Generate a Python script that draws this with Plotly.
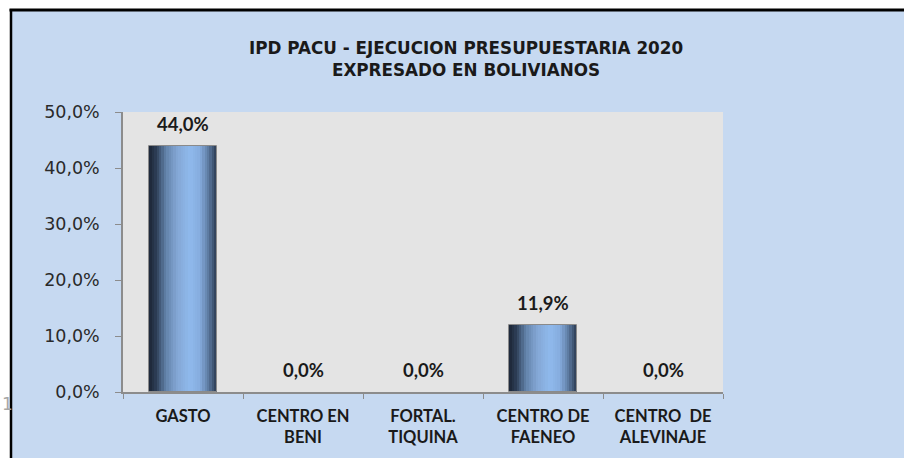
import plotly.graph_objects as go

categories = ["GASTO", "CENTRO EN<br>BENI", "FORTAL.<br>TIQUINA", "CENTRO DE<br>FAENEO", "CENTRO\u00a0 DE<br>ALEVINAJE"]
values = [0.44, 0.0, 0.0, 0.119, 0.0]
y_ticks = [0.0, 0.1, 0.2, 0.3, 0.4, 0.5]

W, H = 904, 458
L, R, T, B = 123, 723, 112, 392

def px2x(px):
    return (px - L) / (R - L)

def py2y(py):
    return (B - py) / (B - T)

# gradient stops across bar width (fraction, rgb)
stops = [(0.0, (28, 38, 54)), (0.1, (45, 62, 86)), (0.25, (100, 132, 172)),
         (0.42, (132, 168, 214)), (0.6, (143, 185, 236)), (0.75, (134, 172, 222)),
         (0.88, (92, 122, 160)), (1.0, (44, 60, 84))]

def col_at(t):
    for (a, ca), (b, cb) in zip(stops[:-1], stops[1:]):
        if a <= t <= b:
            f = (t - a) / (b - a) if b > a else 0
            c = [round(ca[i] + (cb[i] - ca[i]) * f) for i in range(3)]
            return "rgb(%d,%d,%d)" % tuple(c)
    return "rgb(%d,%d,%d)" % stops[-1][1]

bw = 0.56
n = 28
sw = bw / n
fig = go.Figure()
for i in range(n):
    fig.add_trace(go.Bar(
        x=categories, y=values, width=sw * 1.08, offset=-bw / 2 + i * sw,
        marker=dict(color=col_at((i + 0.5) / n), line=dict(width=0)),
        hoverinfo="skip", showlegend=False))
fig.add_trace(go.Bar(
    x=categories, y=values, width=bw, offset=-bw / 2,
    marker=dict(color="rgba(0,0,0,0)",
                line=dict(color="#8a8a8a", width=[1 if v > 0 else 0 for v in values])),
    hoverinfo="skip", showlegend=False))

for c, v in zip(categories, values):
    fig.add_annotation(x=c, y=v, xref="x", yref="y",
                       text=("%.1f" % (v * 100)).replace(".", ",") + "%",
                       showarrow=False, yshift=22, yanchor="middle",
                       font=dict(family="Lato", size=18.5, color="#1a1a1a", weight="bold"))

# stray gray "1" at left outside chart area
fig.add_annotation(x=px2x(0), y=py2y(404), xref="paper", yref="paper", text="1",
                   showarrow=False, xanchor="left", yanchor="middle",
                   font=dict(family="DejaVu Sans", size=17, color="#a6a6a6"))

shapes = [
    dict(type="rect", xref="paper", yref="paper", x0=px2x(-10), x1=px2x(10),
         y0=py2y(470), y1=py2y(-10), fillcolor="white", line=dict(width=0), layer="below"),
    dict(type="rect", xref="paper", yref="paper", x0=px2x(-10), x1=px2x(914),
         y0=py2y(9), y1=py2y(-10), fillcolor="white", line=dict(width=0), layer="below"),
    dict(type="line", xref="paper", yref="paper", x0=px2x(9.5), x1=px2x(914),
         y0=py2y(10), y1=py2y(10), line=dict(color="black", width=3), layer="above"),
    dict(type="line", xref="paper", yref="paper", x0=px2x(11), x1=px2x(11),
         y0=py2y(9), y1=py2y(470), line=dict(color="black", width=2.5), layer="above"),
]

fig.update_layout(
    width=W, height=H,
    margin=dict(l=L, r=W - R, t=T, b=H - B, pad=0),
    paper_bgcolor="#C6D9F1", plot_bgcolor="#E4E4E4",
    separators=",.",
    barmode="overlay", bargap=0,
    shapes=shapes,
    title=dict(text="IPD PACU - EJECUCION PRESUPUESTARIA 2020<br>EXPRESADO EN BOLIVIANOS",
               x=466 / W, xanchor="center", y=1 - 54 / H, yanchor="middle",
               xref="container", yref="container",
               font=dict(family="DejaVu Sans", size=16.8, color="#1a1a1a", weight="bold")),
    xaxis=dict(type="category", showline=True, linecolor="#8c8c8c", linewidth=1.5,
               ticks="outside", tickson="boundaries", ticklen=5, tickcolor="#8c8c8c",
               showgrid=False, zeroline=False, ticklabelstandoff=8,
               tickfont=dict(family="Lato", size=16.5, color="#1a1a1a", weight="bold")),
    yaxis=dict(range=[0, 0.5], tickvals=y_ticks, tickformat=".1%",
               showline=True, linecolor="#8c8c8c", linewidth=1.5,
               ticks="outside", ticklen=6, tickcolor="#8c8c8c",
               showgrid=False, zeroline=False, ticklabelstandoff=12,
               tickfont=dict(family="DejaVu Sans", size=17.5, color="#2a2a2a")),
)

fig.write_html("out.html", config={"displayModeBar": False},
               post_script="document.body.style.margin='0px';")
